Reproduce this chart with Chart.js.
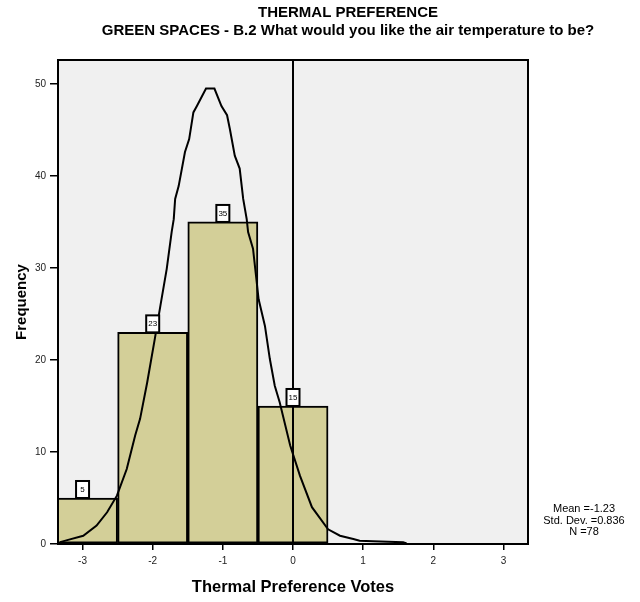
<!DOCTYPE html>
<html><head><meta charset="utf-8">
<script src="https://cdn.jsdelivr.net/npm/chart.js@4"></script>
<style>html,body{margin:0;padding:0;background:#fff}#wrap{width:640px;height:602px}</style>
</head><body><div id="wrap"><canvas id="c" width="640" height="602"></canvas></div>
<script>
// ---- data ----
const binCenters = [-3, -2, -1, 0];
const frequencies = [5, 23, 35, 15];
const curveX = [-3.32, -3.18, -2.99, -2.80, -2.65, -2.51, -2.37, -2.25, -2.18, -2.08, -1.97, -1.89, -1.80, -1.73, -1.70, -1.68, -1.63, -1.54, -1.48, -1.42, -1.37, -1.24, -1.12, -1.02, -0.94, -0.90, -0.83, -0.76, -0.71, -0.66, -0.64, -0.57, -0.49, -0.40, -0.33, -0.26, -0.19, -0.04, 0.10, 0.27, 0.50, 0.67, 0.86, 0.95, 1.14, 1.57, 1.62];
const curveY = [0.2, 0.5, 0.9, 2.0, 3.45, 5.25, 8.15, 11.8, 13.6, 17.5, 22.3, 25.9, 29.9, 33.9, 35.3, 37.5, 38.9, 42.6, 44.0, 46.9, 47.6, 49.5, 49.5, 47.6, 46.6, 45.1, 42.2, 40.8, 37.5, 35.3, 33.9, 32.1, 26.6, 23.7, 20.1, 17.2, 15.4, 10.7, 7.4, 4.0, 1.6, 0.9, 0.54, 0.36, 0.3, 0.18, 0.05];
const xTickValues = [-3, -2, -1, 0, 1, 2, 3];
const yTickValues = [0, 10, 20, 30, 40, 50];
const referenceLineX = 0;
const titleLines = ['THERMAL PREFERENCE', 'GREEN SPACES - B.2 What would you like the air temperature to be?'];
const statsLines = ['Mean =-1.23', 'Std. Dev. =0.836', 'N =78'];
const xAxisTitle = 'Thermal Preference Votes';
const yAxisTitle = 'Frequency';

// ---- styles ----
const FONT = '"Liberation Sans", Arial, sans-serif';
const BAR_FILL = '#d3cf98';
const PLOT_BG = '#f0f0f0';

const barPoints = binCenters.map((x, i) => ({x: x, y: frequencies[i]}));
const curvePoints = curveX.map((x, i) => ({x: x, y: curveY[i]}));

const decorations = {
  id: 'decorations',
  beforeDraw(chart) {
    const {ctx, chartArea: a} = chart;
    ctx.save();
    ctx.fillStyle = '#fff';
    ctx.fillRect(0, 0, chart.width, chart.height);
    ctx.fillStyle = PLOT_BG;
    ctx.fillRect(a.left, a.top, a.right - a.left, a.bottom - a.top);
    ctx.restore();
  },
  afterDatasetsDraw(chart) {
    const {ctx, chartArea: a, scales: {x, y}} = chart;
    ctx.save();
    const rx = Math.round(x.getPixelForValue(referenceLineX));
    ctx.strokeStyle = '#000';
    ctx.lineWidth = 2;
    ctx.beginPath();
    ctx.moveTo(rx, a.top);
    ctx.lineTo(rx, a.bottom);
    ctx.stroke();
    ctx.font = '8px ' + FONT;
    ctx.textAlign = 'center';
    ctx.textBaseline = 'middle';
    binCenters.forEach((c, i) => {
      const cx = x.getPixelForValue(c);
      const top = y.getPixelForValue(frequencies[i]);
      const w = 13, h = 17;
      ctx.fillStyle = '#fff';
      ctx.fillRect(cx - w / 2, top - h, w, h);
      ctx.strokeStyle = '#000';
      ctx.lineWidth = 2;
      ctx.strokeRect(cx - w / 2, top - h, w, h);
      ctx.fillStyle = '#000';
      ctx.fillText(String(frequencies[i]), cx, top - h / 2);
    });
    ctx.strokeStyle = '#000';
    ctx.lineWidth = 2;
    ctx.strokeRect(a.left, a.top, a.right - a.left, a.bottom - a.top);
    ctx.restore();
  },
  afterDraw(chart) {
    const {ctx} = chart;
    ctx.save();
    ctx.fillStyle = '#000';
    ctx.textAlign = 'center';
    ctx.textBaseline = 'middle';
    ctx.font = 'bold 15px ' + FONT;
    ctx.fillText(titleLines[0], 348, 13);
    ctx.fillText(titleLines[1], 348, 31);
    ctx.font = '11px ' + FONT;
    statsLines.forEach((s, i) => ctx.fillText(s, 584, 509 + i * 11.5));
    ctx.restore();
  }
};

new Chart(document.getElementById('c'), {
  type: 'bar',
  data: {
    datasets: [
      {
        type: 'line',
        data: curvePoints,
        order: 0,
        borderColor: '#000',
        borderWidth: 2,
        pointRadius: 0,
        tension: 0,
        fill: false
      },
      {
        type: 'bar',
        data: barPoints,
        order: 1,
        backgroundColor: BAR_FILL,
        borderColor: '#000',
        borderWidth: 2,
        borderSkipped: false,
        barPercentage: 1,
        categoryPercentage: 1,
        grouped: false
      }
    ]
  },
  options: {
    responsive: false,
    animation: false,
    devicePixelRatio: 1,
    layout: {padding: {top: 60, right: 112, left: 0, bottom: 0}},
    plugins: {legend: {display: false}, tooltip: {enabled: false}, title: {display: false}},
    scales: {
      x: {
        type: 'linear',
        min: -3.35,
        max: 3.35,
        offset: false,
        afterBuildTicks: s => { s.ticks = xTickValues.map(v => ({value: v})); },
        afterFit: s => { s.height = 58; },
        ticks: {font: {family: FONT, size: 10}, color: '#222', padding: 5, autoSkip: false, maxRotation: 0, includeBounds: false},
        grid: {drawOnChartArea: false, drawTicks: true, tickLength: 6, color: '#000', lineWidth: 1.5, offset: false},
        border: {display: false},
        title: {display: true, text: xAxisTitle, font: {family: FONT, size: 16.5, weight: 'bold'}, color: '#000', padding: {top: 0, bottom: 5}}
      },
      y: {
        type: 'linear',
        min: 0,
        max: 52.6,
        afterBuildTicks: s => { s.ticks = yTickValues.map(v => ({value: v})); },
        afterFit: s => { s.width = 58; },
        ticks: {font: {family: FONT, size: 10}, color: '#222', padding: 4, includeBounds: false},
        grid: {drawOnChartArea: false, drawTicks: true, tickLength: 8, color: '#000', lineWidth: 1.5},
        border: {display: false},
        title: {display: true, text: yAxisTitle, font: {family: FONT, size: 15, weight: 'bold'}, color: '#000', padding: {top: 13, bottom: 0}}
      }
    }
  },
  plugins: [decorations]
});
</script>
</body></html>
